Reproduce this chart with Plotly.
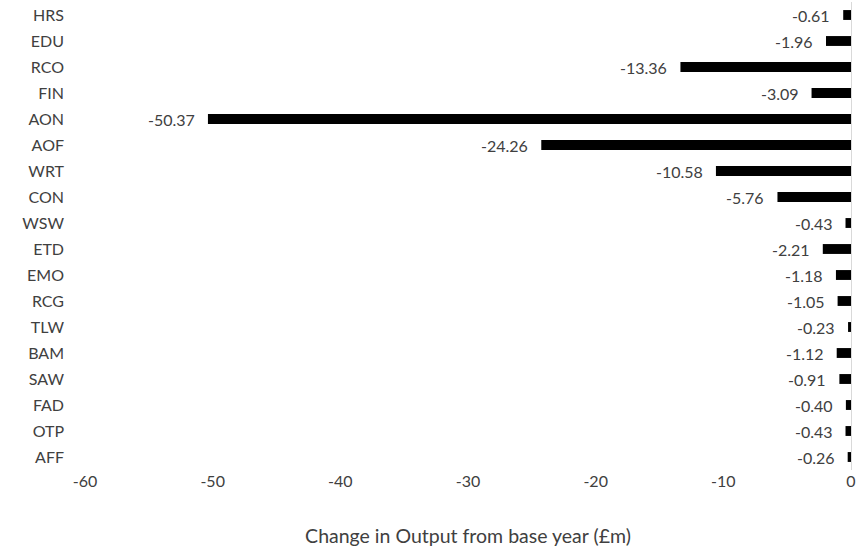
import plotly.graph_objects as go

# Sector codes, bottom to top
sectors = ["AFF", "OTP", "FAD", "SAW", "BAM", "TLW", "RCG", "EMO", "ETD",
           "WSW", "CON", "WRT", "AOF", "AON", "FIN", "RCO", "EDU", "HRS"]
# Change in output from base year (£m)
change = [-0.26, -0.43, -0.40, -0.91, -1.12, -0.23, -1.05, -1.18, -2.21,
          -0.43, -5.76, -10.58, -24.26, -50.37, -3.09, -13.36, -1.96, -0.61]

x_ticks = [-60, -50, -40, -30, -20, -10, 0]

FONT = "Lato, 'Open Sans', sans-serif"
TXT = "#404040"

fig = go.Figure(
    go.Bar(
        y=sectors,
        x=change,
        orientation="h",
        marker=dict(color="black", line=dict(width=0)),
        hoverinfo="x+y",
    )
)

# Value labels sitting just left of each bar end
for s, v in zip(sectors, change):
    fig.add_annotation(
        x=v, y=s, xref="x", yref="y",
        text=f"{v:.2f}",
        showarrow=False,
        xanchor="right", yanchor="middle",
        xshift=-11,
        font=dict(family=FONT, size=16, color=TXT),
    )

fig.update_layout(
    width=864,
    height=549,
    margin=dict(l=85, r=13, t=2, b=79),
    paper_bgcolor="white",
    plot_bgcolor="white",
    showlegend=False,
    bargap=0.62,
    font=dict(family=FONT, size=16, color=TXT),
)

fig.update_xaxes(
    range=[-60, 0],
    tickvals=x_ticks,
    ticktext=[str(t) for t in x_ticks],
    showgrid=False,
    showline=False,
    zeroline=True,
    zerolinecolor="#d9d9d9",
    zerolinewidth=1,
    ticks="",
    tickfont=dict(size=16, color=TXT),
    title=dict(text="Change in Output from base year (£m)",
               font=dict(size=19.5, color=TXT), standoff=40),
)

fig.update_yaxes(
    type="category",
    categoryorder="array",
    categoryarray=sectors,
    showgrid=False,
    showline=False,
    zeroline=False,
    ticks="",
    ticklabelstandoff=20,
    tickfont=dict(size=16, color=TXT),
)

fig.write_html("out.html")
